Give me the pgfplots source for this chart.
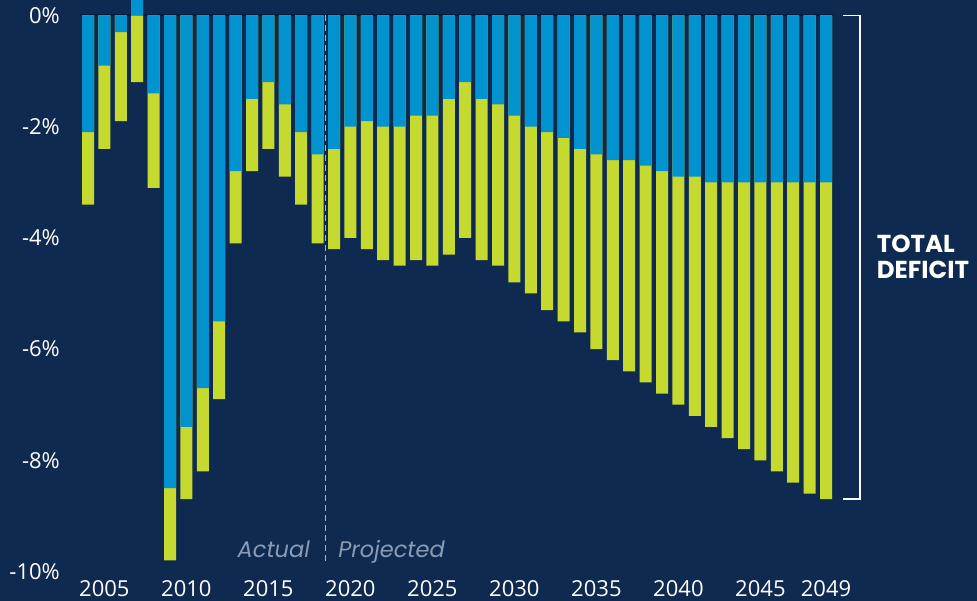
\documentclass[border=0pt]{standalone}
\usepackage{fontspec}
\setmainfont{Open Sans}
\newfontfamily\pop{Poppins}
\usepackage{pgfplots}
\usepackage{pgfplotstable}
\pgfplotsset{compat=1.18}
\definecolor{bg}{HTML}{0E2A50}
\definecolor{bluebar}{HTML}{0093D0}
\definecolor{limebar}{HTML}{C6D92F}
\definecolor{grayt}{HTML}{8D9BB2}
\definecolor{zline}{HTML}{0A1D38}
\definecolor{dashc}{HTML}{A9B4C6}

\pgfplotstableread{
year primary bottom
2004 -2.1 -3.4
2005 -0.9 -2.4
2006 -0.3 -1.9
2007 0.3 -1.2
2008 -1.4 -3.1
2009 -8.5 -9.8
2010 -7.4 -8.7
2011 -6.7 -8.2
2012 -5.5 -6.9
2013 -2.8 -4.1
2014 -1.5 -2.8
2015 -1.2 -2.4
2016 -1.6 -2.9
2017 -2.1 -3.4
2018 -2.5 -4.1
2019 -2.4 -4.2
2020 -2.0 -4.0
2021 -1.9 -4.2
2022 -2.0 -4.4
2023 -2.0 -4.5
2024 -1.8 -4.4
2025 -1.8 -4.5
2026 -1.5 -4.3
2027 -1.2 -4.0
2028 -1.5 -4.4
2029 -1.6 -4.5
2030 -1.8 -4.8
2031 -2.0 -5.0
2032 -2.1 -5.3
2033 -2.2 -5.5
2034 -2.4 -5.7
2035 -2.5 -6.0
2036 -2.6 -6.2
2037 -2.6 -6.4
2038 -2.7 -6.6
2039 -2.8 -6.8
2040 -2.9 -7.0
2041 -2.9 -7.2
2042 -3.0 -7.4
2043 -3.0 -7.6
2044 -3.0 -7.8
2045 -3.0 -8.0
2046 -3.0 -8.2
2047 -3.0 -8.4
2048 -3.0 -8.6
2049 -3.0 -8.7
}\deficit

\begin{document}
\begin{tikzpicture}[x=1pt,y=1pt]
\useasboundingbox[fill=bg] (0,0) rectangle (977,601);
\begin{axis}[
  at={(79.8pt,29.5pt)}, anchor=south west,
  width=754.4pt, height=556pt, scale only axis,
  xmin=2003.5, xmax=2049.5, ymin=-10, ymax=0,
  clip=false,
  axis line style={draw=none},
  major tick length=0pt,
  xtick={2005,2010,2015,2020,2025,2030,2035,2040,2045,2049},
  xticklabels={2005,2010,2015,2020,2025,2030,2035,2040,2045,2049},
  ytick={-10,-8,-6,-4,-2,0},
  yticklabels={-10\%,-8\%,-6\%,-4\%,-2\%,0\%},
  tick label style={text=white, font=\fontsize{22}{26}\selectfont},
  xticklabel style={anchor=base, inner sep=0pt, yshift=-25pt},
  yticklabel style={anchor=east, inner sep=0pt, xshift=-19.8pt},
]
\draw[zline, line width=2pt] (axis cs:2003.5,0) -- (axis cs:2049.5,0);
\addplot[ybar, bar width=12pt, bar shift=0pt, fill=limebar, draw=none]
  table[x=year, y=bottom] {\deficit};
\addplot[ybar, bar width=12pt, bar shift=0pt, fill=bluebar, draw=none]
  table[x=year, y=primary] {\deficit};
\draw[dashc, line width=1pt, dash pattern=on 6pt off 4pt]
  (axis cs:2018.5,0) -- (axis cs:2018.5,-9.85);
\node[anchor=base east, inner sep=0pt, text=grayt, font=\pop\itshape\fontsize{22.5}{26}\selectfont]
  at (axis cs:2017.54,-9.75) {Actual};
\node[anchor=base west, inner sep=0pt, text=grayt, font=\pop\itshape\fontsize{22.5}{26}\selectfont]
  at (axis cs:2019.26,-9.75) {Projected};
\draw[white, line width=1.5pt]
  (axis cs:2050.04,0) -- (axis cs:2051.07,0) -- (axis cs:2051.07,-8.7) -- (axis cs:2050.04,-8.7);
\end{axis}
\node[anchor=base west, inner sep=0pt, text=white, font=\pop\bfseries\fontsize{24.5}{28}\selectfont]
  at (876.7,348) {TOTAL};
\node[anchor=base west, inner sep=0pt, text=white, font=\pop\bfseries\fontsize{24.5}{28}\selectfont]
  at (876.7,322) {DEFICIT};
\end{tikzpicture}
\end{document}
